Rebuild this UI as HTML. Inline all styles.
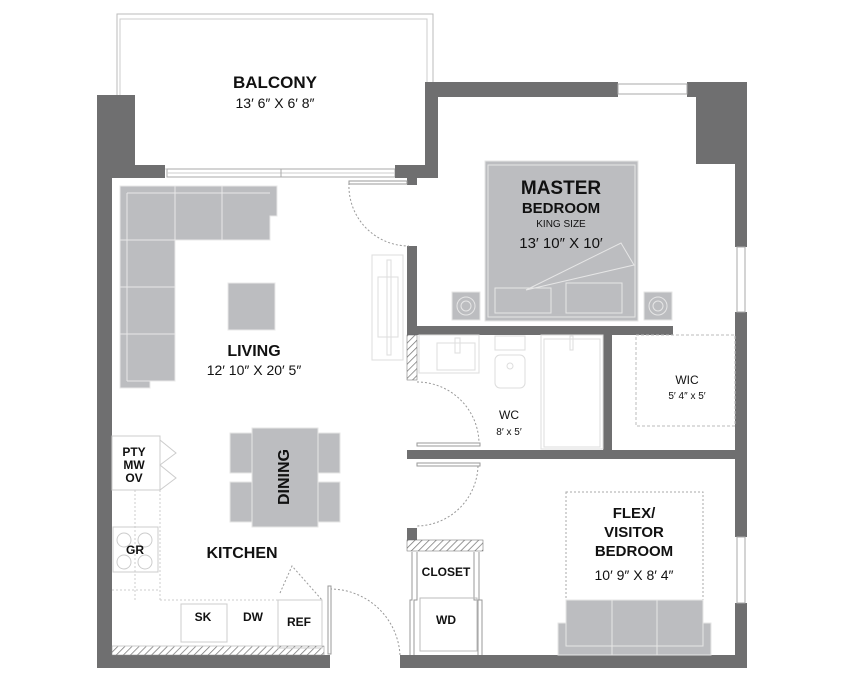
<!DOCTYPE html>
<html><head><meta charset="utf-8"><style>
html,body{margin:0;padding:0;background:#fff;}
svg{display:block;}
text{font-family:"Liberation Sans",sans-serif;fill:#111;text-anchor:middle;}
.b{font-weight:bold;}
</style></head><body>
<svg width="845" height="684" viewBox="0 0 845 684" xmlns="http://www.w3.org/2000/svg">
<defs>
<pattern id="h" width="5" height="5" patternUnits="userSpaceOnUse" patternTransform="rotate(45)">
<rect width="5" height="5" fill="#fff"/><line x1="0" y1="0" x2="0" y2="5" stroke="#777" stroke-width="1.5"/></pattern>
</defs>
<!-- balcony outline -->
<rect x="117" y="14" width="316" height="155" fill="none" stroke="#bbb" stroke-width="1"/>
<rect x="120" y="19" width="307" height="150" fill="none" stroke="#ccc" stroke-width="1"/>
<!-- balcony glass -->
<rect x="167" y="169" width="228" height="8" fill="none" stroke="#aaa" stroke-width="1"/>
<line x1="167" y1="173" x2="395" y2="173" stroke="#ccc"/>
<line x1="281" y1="169" x2="281" y2="177" stroke="#aaa"/>
<!-- walls -->
<g fill="#6f6f70">
<rect x="97" y="95" width="38" height="83"/>
<rect x="97" y="95" width="15" height="573"/>
<rect x="97" y="165" width="68" height="13"/>
<rect x="395" y="165" width="30" height="13"/>
<rect x="407" y="177" width="10" height="8"/>
<rect x="425" y="82" width="13" height="96"/>
<rect x="425" y="82" width="193" height="15"/>
<rect x="687" y="82" width="60" height="15"/>
<rect x="696" y="82" width="51" height="82"/>
<rect x="735" y="82" width="12" height="165"/>
<rect x="735" y="312" width="12" height="225"/>
<rect x="735" y="603" width="12" height="65"/>
<rect x="97" y="655" width="233" height="13"/>
<rect x="400" y="655" width="347" height="13"/>
<rect x="407" y="246" width="10" height="89"/>
<rect x="407" y="326" width="266" height="9"/>
<rect x="603" y="326" width="9" height="133"/>
<rect x="407" y="450" width="328" height="9"/>
<rect x="407" y="528" width="10" height="18"/>
</g>
<!-- windows -->
<rect x="618" y="84" width="69" height="10" fill="none" stroke="#aaa"/>
<rect x="737" y="247" width="8" height="65" fill="none" stroke="#aaa"/>
<rect x="737" y="537" width="8" height="66" fill="none" stroke="#aaa"/>
<!-- hatches -->
<rect x="407" y="335" width="10" height="45" fill="url(#h)" stroke="#666" stroke-width="0.5"/>
<rect x="407" y="540" width="76" height="11" fill="url(#h)" stroke="#666" stroke-width="0.5"/>
<rect x="112" y="646" width="212" height="9" fill="url(#h)" stroke="#888" stroke-width="0.5"/>
<!-- doors -->
<g fill="none" stroke="#999" stroke-dasharray="2,2">
<path d="M349 183 A60 60 0 0 0 409 246"/>
<path d="M417 382 A62 62 0 0 1 479 444"/>
<path d="M478 466 A62 62 0 0 1 416 526"/>
<path d="M330 589 A70 70 0 0 1 400 655"/>
<path d="M280 593 L292 566 L322 600"/>
</g>
<g fill="#fff" stroke="#999">
<rect x="349" y="181" width="58" height="3"/>
<rect x="417" y="443" width="63" height="3"/>
<rect x="417" y="463" width="63" height="3"/>
<rect x="328" y="586" width="3" height="68"/>
</g>
<!-- sofa living -->
<g fill="#bcbdc0" stroke="#e8e8e8" stroke-width="1">
<path d="M120 186 H277 V216 H270 V240 H175 V381 H150 V388 H120 Z"/>
<line x1="127" y1="193" x2="270" y2="193"/><line x1="127" y1="193" x2="127" y2="381"/>
<line x1="127" y1="381" x2="175" y2="381"/>
<line x1="175" y1="186" x2="175" y2="240"/><line x1="222" y1="186" x2="222" y2="240"/>
<line x1="120" y1="240" x2="175" y2="240"/><line x1="120" y1="287" x2="175" y2="287"/><line x1="120" y1="334" x2="175" y2="334"/>
<rect x="228" y="283" width="47" height="47"/>
</g>
<!-- tv -->
<g fill="none" stroke="#ddd"><rect x="372" y="255" width="31" height="105"/><rect x="378" y="277" width="20" height="60"/><rect x="387" y="260" width="4" height="95"/></g>
<!-- master bed -->
<g fill="#bcbdc0" stroke="#e6e6e6">
<rect x="485" y="161" width="153" height="160"/>
<rect x="488" y="165" width="147" height="152" fill="none"/>
<rect x="495" y="288" width="56" height="25" fill="none"/>
<rect x="566" y="283" width="56" height="30" fill="none"/>
<path d="M526 290 L621 243 L634 265 L526 290" fill="none"/>
<rect x="452" y="292" width="28" height="28"/><circle cx="466" cy="306" r="9" fill="none"/><circle cx="466" cy="306" r="5" fill="none"/>
<rect x="644" y="292" width="28" height="28"/><circle cx="658" cy="306" r="9" fill="none"/><circle cx="658" cy="306" r="5" fill="none"/>
</g>
<!-- wc fixtures -->
<g fill="none" stroke="#ddd">
<rect x="419" y="335" width="60" height="38"/><rect x="437" y="343" width="38" height="27"/><rect x="455" y="338" width="5" height="15"/>
<rect x="495" y="336" width="30" height="14"/><rect x="495" y="355" width="30" height="33" rx="5"/><circle cx="510" cy="366" r="3"/>
<rect x="541" y="335" width="62" height="114"/><rect x="544" y="339" width="56" height="108"/><rect x="570" y="336" width="3" height="14"/>
</g>
<rect x="636" y="335" width="99" height="91" fill="none" stroke="#bbb" stroke-dasharray="3,2"/>
<!-- closet -->
<g fill="none" stroke="#999">
<path d="M412 552 V600 H410 V655 M417 552 V600 H414 V655"/>
<path d="M474 552 V600 H478 V655 M479 552 V600 H482 V655"/>
<rect x="420" y="598" width="57" height="53" stroke="#bbb"/>
</g>
<!-- flex bed -->
<rect x="566" y="492" width="137" height="110" fill="none" stroke="#aaa" stroke-dasharray="2,2"/>
<g fill="#bcbdc0" stroke="#e6e6e6">
<rect x="558" y="623" width="153" height="32"/>
<rect x="566" y="600" width="137" height="46"/>
<line x1="612" y1="600" x2="612" y2="655"/><line x1="657" y1="600" x2="657" y2="655"/>
</g>
<!-- dining -->
<g fill="#bcbdc0" stroke="#e6e6e6">
<rect x="230" y="433" width="110" height="40"/>
<rect x="230" y="482" width="110" height="40"/>
<rect x="252" y="428" width="66" height="99"/>
</g>
<!-- kitchen -->
<g fill="none" stroke="#ccc">
<rect x="112" y="436" width="48" height="54"/>
<path d="M160 440 L176 453 L160 465 L176 478 L160 490"/>
<path d="M160 490 V600 M112 590 H160 M135 490 V600 M160 600 H278" stroke-dasharray="2,2"/>
<rect x="113" y="527" width="45" height="45"/>
<circle cx="124" cy="540" r="7"/><circle cx="145" cy="540" r="7"/><circle cx="124" cy="562" r="7"/><circle cx="145" cy="562" r="7"/>
<rect x="181" y="604" width="46" height="38"/>
<rect x="278" y="600" width="44" height="48"/>
<line x1="112" y1="646" x2="278" y2="646"/>
</g>
<!-- labels -->
<text x="275" y="88" class="b" font-size="17">BALCONY</text>
<text x="275" y="108" font-size="14">13′ 6″ X 6′ 8″</text>
<text x="561" y="194" class="b" font-size="19">MASTER</text>
<text x="561" y="213" class="b" font-size="15">BEDROOM</text>
<text x="561" y="227" font-size="10">KING SIZE</text>
<text x="561" y="248" font-size="15">13′ 10″ X 10′</text>
<text x="254" y="356" class="b" font-size="16">LIVING</text>
<text x="254" y="375" font-size="14">12′ 10″ X 20′ 5″</text>
<text x="509" y="419" font-size="12">WC</text>
<text x="509" y="435" font-size="10">8′ x 5′</text>
<text x="687" y="384" font-size="12">WIC</text>
<text x="687" y="399" font-size="10">5′ 4″ x 5′</text>
<text transform="translate(289,477) rotate(-90)" class="b" font-size="16">DINING</text>
<text x="242" y="558" class="b" font-size="16">KITCHEN</text>
<text x="134" y="456" class="b" font-size="12">PTY</text>
<text x="134" y="469" class="b" font-size="12">MW</text>
<text x="134" y="482" class="b" font-size="12">OV</text>
<text x="135" y="554" class="b" font-size="12">GR</text>
<text x="203" y="621" class="b" font-size="12">SK</text>
<text x="253" y="621" class="b" font-size="12">DW</text>
<text x="299" y="626" class="b" font-size="12">REF</text>
<text x="446" y="576" class="b" font-size="12">CLOSET</text>
<text x="446" y="624" class="b" font-size="12">WD</text>
<text x="634" y="518" class="b" font-size="15">FLEX/</text>
<text x="634" y="537" class="b" font-size="15">VISITOR</text>
<text x="634" y="556" class="b" font-size="15">BEDROOM</text>
<text x="634" y="580" font-size="14">10′ 9″ X 8′ 4″</text>
</svg>
</body></html>
